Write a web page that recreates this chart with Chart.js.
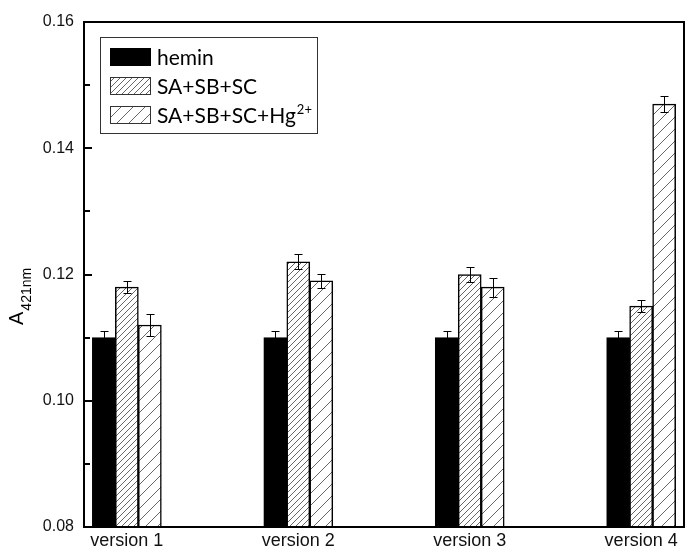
<!DOCTYPE html>
<html>
<head>
<meta charset="utf-8">
<script src="https://cdn.jsdelivr.net/npm/chart.js@4.4.1/dist/chart.umd.min.js"></script>
<style>
  html, body { margin: 0; padding: 0; background: #fff; }
  canvas { display: block; }
</style>
</head>
<body>
<canvas id="absChart" width="686" height="551"></canvas>
<script>
const categories = ["version 1", "version 2", "version 3", "version 4"];
const seriesNames = ["hemin", "SA+SB+SC", "SA+SB+SC+Hg²⁺"];
const heminVals = [0.110, 0.110, 0.110, 0.110];
const heminErr = [0.001, 0.001, 0.001, 0.001];
const sabcVals = [0.118, 0.122, 0.120, 0.115];
const sabcErr = [0.001, 0.0012, 0.0012, 0.0009];
const sabcHgVals = [0.112, 0.119, 0.118, 0.147];
const sabcHgErr = [0.0017, 0.0011, 0.0015, 0.0013];
const yTicks = [0.08, 0.10, 0.12, 0.14, 0.16];
const yMinorTicks = [0.09, 0.11, 0.13, 0.15];

// diagonal hatch tiles
function makeHatch(size, color) {
    const c = document.createElement("canvas");
    c.width = size; c.height = size;
    const g = c.getContext("2d");
    g.fillStyle = "#fff";
    g.fillRect(0, 0, size, size);
    g.strokeStyle = color;
    g.lineWidth = 1;
    g.beginPath();
    g.moveTo(0, size); g.lineTo(size, 0);
    g.moveTo(-2, 2); g.lineTo(2, -2);
    g.moveTo(size - 2, size + 2); g.lineTo(size + 2, size - 2);
    g.stroke();
    return g.createPattern(c, "repeat");
}
const denseHatch = makeHatch(6, "#666");
const sparseHatch = makeHatch(12, "#666");

const toPoints = vals => vals.map((v, i) => ({ x: i + 1, y: v }));

const errorBars = {
    id: "errorBars",
    afterDatasetsDraw(chart) {
        const ctx = chart.ctx;
        const y = chart.scales.y;
        ctx.save();
        ctx.strokeStyle = "#000";
        ctx.lineWidth = 1;
        chart.data.datasets.forEach((ds, di) => {
            const meta = chart.getDatasetMeta(di);
            meta.data.forEach((el, i) => {
                const v = ds.data[i].y, e = ds.errors[i];
                const top = Math.round(y.getPixelForValue(v + e)) + 0.5;
                const bot = Math.round(y.getPixelForValue(v - e)) + 0.5;
                const x = Math.round(el.x) + 0.5;
                ctx.beginPath();
                ctx.moveTo(x, top); ctx.lineTo(x, bot);
                ctx.moveTo(x - 4, top); ctx.lineTo(x + 4, top);
                ctx.moveTo(x - 4, bot); ctx.lineTo(x + 4, bot);
                ctx.stroke();
            });
        });
        ctx.restore();
    }
};

const frame = {
    id: "frame",
    afterDraw(chart) {
        const ctx = chart.ctx;
        const a = chart.chartArea;
        const y = chart.scales.y;
        ctx.save();
        ctx.strokeStyle = "#000";
        ctx.lineWidth = 2;
        ctx.strokeRect(a.left, a.top, a.right - a.left, a.bottom - a.top);
        // inward ticks on the left axis
        ctx.beginPath();
        yTicks.forEach(t => {
            const p = Math.round(y.getPixelForValue(t));
            ctx.moveTo(a.left, p); ctx.lineTo(a.left + 8, p);
        });
        yMinorTicks.forEach(t => {
            const p = Math.round(y.getPixelForValue(t));
            ctx.moveTo(a.left, p); ctx.lineTo(a.left + 6, p);
        });
        ctx.stroke();

        // y axis title A with subscript
        ctx.fillStyle = "#000";
        ctx.translate(23, 325);
        ctx.rotate(-Math.PI / 2);
        ctx.textBaseline = "alphabetic";
        ctx.font = "20px 'Liberation Sans', Arial, sans-serif";
        ctx.fillText("A", 0, 0);
        const w = ctx.measureText("A").width;
        ctx.font = "14px 'Liberation Sans', Arial, sans-serif";
        ctx.fillText("421nm", w + 1, 8);
        ctx.restore();

        // legend box inside the plot
        ctx.save();
        ctx.fillStyle = "#fff";
        ctx.fillRect(101, 37, 217, 96);
        ctx.strokeStyle = "#333";
        ctx.lineWidth = 1;
        ctx.strokeRect(100.5, 37.5, 217, 96);
        const fills = ["#000", denseHatch, sparseHatch];
        const rows = [57, 86, 115];
        ctx.font = "21px Lato, 'Open Sans', sans-serif";
        ctx.textBaseline = "middle";
        seriesNames.forEach((name, i) => {
            const cy = rows[i];
            ctx.fillStyle = fills[i];
            ctx.fillRect(110, cy - 9, 41, 18);
            ctx.strokeStyle = i === 0 ? "#000" : "#333";
            ctx.strokeRect(110.5, cy - 8.5, 40, 17);
            ctx.fillStyle = "#000";
            if (name.endsWith("²⁺")) {
                const base = name.slice(0, -2);
                ctx.fillText(base, 157, cy + 1);
                const bw = ctx.measureText(base).width;
                ctx.font = "13px Lato, 'Open Sans', sans-serif";
                ctx.fillText("2+", 157 + bw + 1, cy - 5);
                ctx.font = "21px Lato, 'Open Sans', sans-serif";
            } else {
                ctx.fillText(name, 157, cy + 1);
            }
        });
        ctx.restore();
    }
};

new Chart(document.getElementById("absChart").getContext("2d"), {
    type: "bar",
    data: {
        datasets: [
            {
                label: seriesNames[0],
                data: toPoints(heminVals),
                errors: heminErr,
                backgroundColor: "#000",
                borderColor: "#000",
                borderWidth: 1
            },
            {
                label: seriesNames[1],
                data: toPoints(sabcVals),
                errors: sabcErr,
                backgroundColor: denseHatch,
                borderColor: "#000",
                borderWidth: 1.5
            },
            {
                label: seriesNames[2],
                data: toPoints(sabcHgVals),
                errors: sabcHgErr,
                backgroundColor: sparseHatch,
                borderColor: "#000",
                borderWidth: 1.5
            }
        ]
    },
    options: {
        responsive: false,
        animation: false,
        devicePixelRatio: 1,
        barThickness: 23,
        layout: { padding: { top: 22, right: 2, left: 0, bottom: 0 } },
        plugins: {
            legend: { display: false },
            tooltip: { enabled: false }
        },
        scales: {
            x: {
                type: "linear",
                offset: false,
                min: 0.75,
                max: 4.25,
                grid: { display: false, drawTicks: false, offset: false },
                border: { display: false },
                ticks: {
                    stepSize: 1,
                    includeBounds: false,
                    autoSkip: false,
                    maxRotation: 0,
                    padding: 3,
                    color: "#111",
                    font: { family: "'Liberation Sans', Arial, sans-serif", size: 18 },
                    callback: v => Number.isInteger(v) ? categories[v - 1] : ""
                },
                afterFit: s => { s.height = 24; }
            },
            y: {
                min: 0.08,
                max: 0.16,
                grid: { display: false, drawTicks: false },
                border: { display: false },
                ticks: {
                    stepSize: 0.02,
                    padding: 10,
                    color: "#111",
                    font: { family: "'Liberation Sans', Arial, sans-serif", size: 16 },
                    callback: v => v.toFixed(2)
                },
                afterFit: s => { s.width = 84; }
            }
        }
    },
    plugins: [errorBars, frame]
});
</script>
</body>
</html>
